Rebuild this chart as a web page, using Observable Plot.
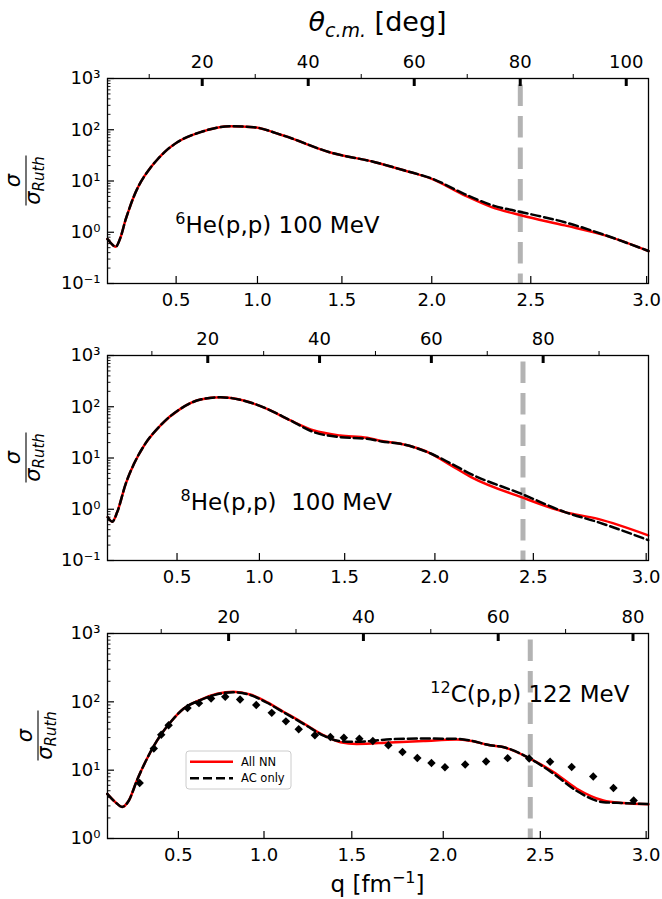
<!DOCTYPE html>
<html><head><meta charset="utf-8">
<script src="https://cdn.jsdelivr.net/npm/d3@7"></script>
<script src="https://cdn.jsdelivr.net/npm/@observablehq/plot@0.6"></script>
<style>
body{margin:0;background:#fff;}
#chart{width:662px;}
#chart svg{display:block;}
</style></head><body><div id="chart"></div>
<script>
// ---------------- data (x values are theta_cm in degrees, linear axis) ----------------
// 6He(p,p) 100 MeV
const theta6  = [2.13, 3.0, 3.64, 4.6, 5.5, 6.3, 7.1, 8.0, 9.0, 10.2, 11.5, 13.3, 15.3, 19.7, 25.3, 29.7, 35.3, 44.2, 52.6, 58.2, 63.3, 69.6, 74.6, 80.3, 88.4, 96.0, 104.2];
const allNN6  = [0.74, 0.58, 0.52, 0.8, 1.7, 3.0, 5.0, 8.0, 12, 18, 26, 40, 57, 90, 117, 112, 77, 36, 23.3, 16, 11, 5.2, 3.1, 2.12, 1.36, 0.87, 0.43];
const acOnly6 = [0.74, 0.58, 0.52, 0.8, 1.7, 3.0, 5.0, 8.0, 12, 18, 26, 40, 57, 90, 117, 112, 77, 36, 23.3, 16, 11.2, 5.5, 3.4, 2.46, 1.57, 0.88, 0.43];

// 8He(p,p) 100 MeV
const theta8  = [2.1, 2.9, 3.8, 5.3, 6.8, 8.6, 11.5, 15.1, 18.7, 22.3, 26.4, 30.6, 34.8, 39.0, 43.7, 48.5, 51.1, 54.5, 60.0, 63.6, 67.2, 76.1, 83.9, 89.8, 98.8];
const allNN8  = [0.70, 0.57, 0.88, 3.1, 7.7, 17.5, 43, 91, 138, 153, 132, 91, 54, 34.4, 27.5, 24.8, 21.5, 18.9, 12.1, 7.1, 4.2, 1.72, 0.88, 0.65, 0.31];
const acOnly8 = [0.70, 0.57, 0.88, 3.1, 7.7, 17.5, 43, 91, 138, 153, 132, 91, 54, 31.9, 25.5, 23.7, 21, 18.9, 12.1, 7.7, 4.8, 2.0, 0.88, 0.56, 0.25];

// 12C(p,p) 122 MeV
const theta12  = [2.0, 3.2, 4.2, 5.2, 6.4, 7.9, 9.4, 11.4, 13.3, 15.8, 18.3, 20.7, 23.2, 25.7, 28.2, 30.6, 31.6, 34.1, 36.6, 39.0, 44.0, 48.9, 53.8, 55.8, 58.8, 60.7, 64.7, 68.2, 71.6, 75.6, 78.5, 82.3];
const allNN12  = [4.5, 3.4, 2.9, 3.6, 7.1, 14.8, 27.3, 50.6, 79, 107, 131, 141, 128, 99, 71, 52, 45.3, 32.4, 25.7, 24.2, 25.5, 26.7, 28.0, 27.0, 23.1, 21.8, 14.8, 9.4, 5.4, 3.6, 3.3, 3.17];
const acOnly12 = [4.5, 3.4, 2.9, 3.6, 7.1, 14.8, 27.3, 50.6, 79, 106, 129, 138, 126, 97, 70, 51, 44.5, 32, 26.5, 26.0, 28.3, 29.0, 28.8, 27.3, 23.1, 21.8, 14.8, 8.9, 5.0, 3.4, 3.3, 3.2];
const thetaExp = [6.8, 8.9, 10.0, 11.1, 13.9, 15.6, 17.4, 19.5, 21.7, 24.1, 26.4, 28.5, 30.4, 32.8, 35.1, 37.1, 39.4, 41.4, 43.7, 45.8, 48.0, 50.1, 52.1, 55.1, 58.2, 61.4, 64.6, 67.7, 70.9, 74.1, 77.1, 80.1];
const sigExp   = [6.5, 20.7, 33, 45.3, 81, 95.7, 112, 119, 108, 89.6, 69, 51.8, 39.6, 32.4, 30.5, 29.8, 28.8, 26.7, 23.1, 18.4, 15.1, 12.7, 11.0, 12.1, 13.4, 15.0, 14.8, 13.3, 11.1, 8.1, 5.5, 3.6];
const errExp   = [0.06, 0.06, 0.06, 0.06, 0.06, 0.06, 0.06, 0.06, 0.06, 0.06, 0.06, 0.06, 0.06, 0.06, 0.06, 0.06, 0.06, 0.06, 0.06, 0.06, 0.06, 0.06, 0.06, 0.06, 0.06, 0.06, 0.06, 0.06, 0.06, 0.06, 0.06, 0.06];

// 2k (fm^-1) per reaction: q = 2k sin(theta/2)
const twoK = {he6: 3.811, he8: 3.962, c12: 4.575};
const qTicks = [0.5, 1.0, 1.5, 2.0, 2.5, 3.0];
const qCut = 2.45;
const thetaMajor = [20, 40, 60, 80, 100];
const thetaMinor = [10, 30, 50, 70, 90];
const seriesNames = ["All NN", "AC only"];
const titleTop = {main: "θ", sub: "c.m.", rest: " [deg]"};
const xLabel = {main: "q [fm", sup: "−1", rest: "]"};
const notes = [
  {sup: "6", rest: "He(p,p) 100 MeV"},
  {sup: "8", rest: "He(p,p)\u00a0 100 MeV"},
  {sup: "12", rest: "C(p,p) 122 MeV"}
];

// ---------------- layout ----------------
const W = 662, ML = 107, MR = 14, PH = 205;
const FONT = "DejaVu Sans";
const innerW = W - ML - MR;
const supMap = {"-": "⁻", "0": "⁰", "1": "¹", "2": "²", "3": "³", "4": "⁴"};
const fmtPow = d => "10" + String(Math.round(Math.log10(d))).replace(/./g, c => supMap[c]);

function makePanel(p) {
  const H = p.mt + PH + p.mb;
  const toTheta = q => 2 * Math.asin(q / p.twoK) * 180 / Math.PI;
  const toQ = t => p.twoK * Math.sin(t * Math.PI / 360);
  const rows = p.theta.map((t, i) => ({t, a: p.allNN[i], b: p.acOnly[i]}));
  const e0 = Math.round(Math.log10(p.yDomain[0])), e1 = Math.round(Math.log10(p.yDomain[1]));
  const yMajor = d3.range(e0, e1 + 1).map(e => 10 ** e);
  const minorY = [];
  for (let e = e0; e < e1; e++) for (let m = 2; m <= 9; m++) minorY.push(m * 10 ** e);
  const qTh = qTicks.map(toTheta).filter(t => t <= p.thetaDomain[1] + 0.5);
  const tMaj = thetaMajor.filter(t => t >= p.thetaDomain[0] && t <= p.thetaDomain[1]);
  const tMin = thetaMinor.filter(t => t >= p.thetaDomain[0] && t <= p.thetaDomain[1]);
  const marks = [
    Plot.ruleX([toTheta(qCut)], {stroke: "#b3b3b3", strokeWidth: 5, strokeDasharray: "21.5,10", strokeDashoffset: 25}),
    Plot.line(rows, {x: "t", y: "a", stroke: "#ff0000", strokeWidth: 2.5, curve: "monotone-x"}),
    Plot.line(rows, {x: "t", y: "b", stroke: "black", strokeWidth: 2.5, strokeDasharray: "9,4", curve: "monotone-x"})
  ];
  if (p.exp) {
    const er = p.exp.theta.map((t, i) => ({t, s: p.exp.sig[i], e: p.exp.err[i]}));
    marks.push(
      Plot.ruleX(er, {x: "t", y1: d => d.s * (1 - d.e), y2: d => d.s * (1 + d.e), stroke: "black", strokeWidth: 1.5}),
      Plot.dot(er, {x: "t", y: "s", symbol: "diamond2", r: 3.8, fill: "black", stroke: "none"})
    );
  }
  marks.push(
    Plot.frame({stroke: "black", strokeWidth: 1.3}),
    Plot.tickY(yMajor, {insetRight: innerW - 7, stroke: "black", strokeWidth: 1.2}),
    Plot.tickY(minorY, {insetRight: innerW - 3.5, stroke: "black", strokeWidth: 0.9}),
    Plot.tickX(qTh, {insetTop: PH - 7, stroke: "black", strokeWidth: 1.2}),
    Plot.tickX(tMaj, {insetBottom: PH - 8, stroke: "black", strokeWidth: 3}),
    Plot.tickX(tMin, {insetTop: -4, insetBottom: PH, stroke: "black", strokeWidth: 1}),
    Plot.axisY({ticks: yMajor, tickFormat: fmtPow, tickSize: 0, tickPadding: 7, label: null}),
    Plot.axisX({anchor: "bottom", ticks: qTh, tickFormat: t => d3.format(".1f")(toQ(t)), tickSize: 0, tickPadding: 10, label: null}),
    Plot.axisX({anchor: "top", ticks: tMaj, tickFormat: d3.format("d"), tickSize: 0, tickPadding: 11, label: null})
  );
  const svg = Plot.plot({
    width: W, height: H,
    marginLeft: ML, marginRight: MR, marginTop: p.mt, marginBottom: p.mb,
    style: {fontFamily: FONT, fontSize: "18px", color: "black", background: "white", overflow: "visible"},
    x: {domain: p.thetaDomain},
    y: {type: "log", domain: p.yDomain},
    marks
  });
  // annotation, placed through the plot's scales
  const nx = svg.scale("x").apply(p.noteX), ny = svg.scale("y").apply(p.noteY);
  const nt = d3.select(svg).append("text").attr("x", nx).attr("y", ny).attr("text-anchor", "start")
    .attr("font-family", FONT).attr("font-size", 23).attr("fill", "black");
  nt.append("tspan").attr("font-size", 16).attr("dy", -9).text(p.note.sup);
  nt.append("tspan").attr("dy", 9).text(p.note.rest);
  // y label: sigma / sigma_Ruth
  const g = d3.select(svg).append("g")
    .attr("transform", `translate(${p.ylabX},${p.mt + PH / 2}) rotate(-90)`)
    .attr("font-family", FONT).attr("fill", "black");
  g.append("text").attr("x", 0).attr("y", -6).attr("text-anchor", "middle")
    .attr("font-size", 21).attr("font-style", "italic").text("σ");
  g.append("line").attr("x1", -25).attr("x2", 25).attr("y1", 0).attr("y2", 0)
    .attr("stroke", "black").attr("stroke-width", 1.1);
  const den = g.append("text").attr("x", 0).attr("y", 14).attr("text-anchor", "middle")
    .attr("font-size", 21).attr("font-style", "italic");
  den.append("tspan").text("σ");
  den.append("tspan").attr("font-size", 15).attr("dy", 4).text("Ruth");
  return svg;
}

const chart = document.getElementById("chart");

const s1 = makePanel({theta: theta6, allNN: allNN6, acOnly: acOnly6, twoK: twoK.he6,
  thetaDomain: [2.13, 104.2], yDomain: [0.1, 1000], mt: 78, mb: 30, ylabX: 26,
  note: notes[0], noteX: 15.0, noteY: 0.96});
// top title
const tt = d3.select(s1).append("text").attr("x", ML + innerW / 2).attr("y", 31)
  .attr("text-anchor", "middle").attr("font-family", FONT).attr("font-size", 27).attr("fill", "black");
tt.append("tspan").attr("font-style", "italic").text(titleTop.main);
tt.append("tspan").attr("font-style", "italic").attr("font-size", 19).attr("dy", 6).text(titleTop.sub);
tt.append("tspan").attr("dy", -6).text(titleTop.rest);
chart.appendChild(s1);

const s2 = makePanel({theta: theta8, allNN: allNN8, acOnly: acOnly8, twoK: twoK.he8,
  thetaDomain: [2.06, 98.85], yDomain: [0.1, 1000], mt: 42, mb: 30, ylabX: 26,
  note: notes[1], noteX: 15.2, noteY: 0.946});
chart.appendChild(s2);

const s3 = makePanel({theta: theta12, allNN: allNN12, acOnly: acOnly12, twoK: twoK.c12,
  thetaDomain: [2.03, 82.3], yDomain: [1, 1000], mt: 43, mb: 61, ylabX: 38,
  exp: {theta: thetaExp, sig: sigExp, err: errExp},
  note: notes[2], noteX: 50.0, noteY: 99});
// legend
const lg = d3.select(s3).append("g").attr("font-family", FONT).attr("text-anchor", "start");
lg.append("rect").attr("x", 186).attr("y", 161).attr("width", 105).attr("height", 38).attr("rx", 3)
  .attr("fill", "white").attr("fill-opacity", 0.8).attr("stroke", "#cccccc").attr("stroke-width", 1);
lg.append("line").attr("x1", 190).attr("x2", 233).attr("y1", 171.7).attr("y2", 171.7)
  .attr("stroke", "#ff0000").attr("stroke-width", 2.5);
lg.append("line").attr("x1", 190).attr("x2", 233).attr("y1", 188.3).attr("y2", 188.3)
  .attr("stroke", "black").attr("stroke-width", 2.5).attr("stroke-dasharray", "9,4");
lg.append("text").attr("x", 241).attr("y", 175.8).attr("text-anchor", "start").attr("font-size", 11.5).attr("fill", "black").text(seriesNames[0]);
lg.append("text").attr("x", 241).attr("y", 192.4).attr("text-anchor", "start").attr("font-size", 11.5).attr("fill", "black").text(seriesNames[1]);
// x label
const xl = d3.select(s3).append("text").attr("x", ML + innerW / 2).attr("y", 302)
  .attr("text-anchor", "middle").attr("font-family", FONT).attr("font-size", 23).attr("fill", "black");
xl.append("tspan").text(xLabel.main);
xl.append("tspan").attr("font-size", 16).attr("dy", -9).text(xLabel.sup);
xl.append("tspan").attr("dy", 9).text(xLabel.rest);
chart.appendChild(s3);
</script></body></html>
